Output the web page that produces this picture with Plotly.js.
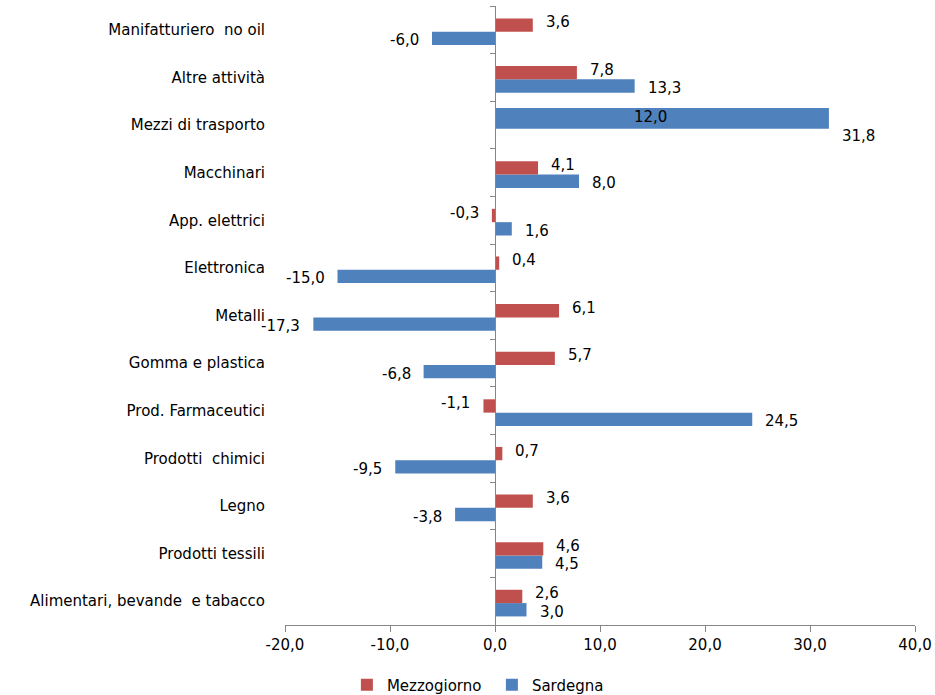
<!DOCTYPE html>
<html>
<head>
<meta charset="utf-8">
<script src="https://cdn.plot.ly/plotly-3.0.1.min.js"></script>
<style>html,body{margin:0;padding:0;background:#fff;}#chart{width:935px;height:695px;}</style>
</head>
<body>
<div id="chart"></div>
<script>
var categories = ["Manifatturiero  no oil", "Altre attività", "Mezzi di trasporto", "Macchinari", "App. elettrici", "Elettronica", "Metalli", "Gomma e plastica", "Prod. Farmaceutici", "Prodotti  chimici", "Legno", "Prodotti tessili", "Alimentari, bevande  e tabacco"];
var mezzogiorno = [3.6, 7.8, 12.0, 4.1, -0.3, 0.4, 6.1, 5.7, -1.1, 0.7, 3.6, 4.6, 2.6];
var sardegna = [-6.0, 13.3, 31.8, 8.0, 1.6, -15.0, -17.3, -6.8, 24.5, -9.5, -3.8, 4.5, 3.0];
var xTicks = [-20, -10, 0, 10, 20, 30, 40];
var overlapCategory = "Mezzi di trasporto"; // in the original the blue bar covers the red one here

var RED = "#C0504D", BLUE = "#4F81BD";
function fmt(v) { return v.toFixed(1).replace(".", ","); }

var W = 0.28, SHIFT = 0.04;
var blueOffset = categories.map(function (c) { return c === overlapCategory ? -0.36 : SHIFT; });
var blueWidth = categories.map(function (c) { return c === overlapCategory ? 0.44 : W; });
var redColor = categories.map(function (c) { return c === overlapCategory ? "rgba(0,0,0,0)" : RED; });

var font = { family: "DejaVu Sans, sans-serif", size: 15, color: "#000" };
var yRange = [categories.length - 0.5, -0.5];

// value labels, placed next to the end of each bar
function labels(values, slotCenter, yshift) {
  return values.map(function (v, i) {
    return {
      x: v, y: i + slotCenter, xref: "x", yref: "y",
      text: fmt(v), showarrow: false, font: font,
      xanchor: v < 0 ? "right" : "left", yanchor: "middle",
      xshift: v < 0 ? -11 : 11, yshift: yshift
    };
  });
}
var annotations = labels(mezzogiorno, SHIFT - W / 2, 3).concat(labels(sardegna, SHIFT + W / 2, -2));

var traces = [
  {
    type: "bar", orientation: "h", name: "Sardegna", y: categories, x: sardegna,
    marker: { color: BLUE }, offset: blueOffset, width: blueWidth,
    hoverinfo: "x+name", legendrank: 2
  },
  {
    type: "bar", orientation: "h", name: "Mezzogiorno", y: categories, x: mezzogiorno,
    marker: { color: redColor }, offset: SHIFT - W, width: W,
    hoverinfo: "x+name", legendrank: 1
  },
  {
    type: "scatter", mode: "none", y: categories, x: categories.map(function () { return 0; }),
    yaxis: "y2", showlegend: false, hoverinfo: "skip"
  }
];

var layout = {
  width: 935, height: 695,
  margin: { l: 285, r: 20, t: 6, b: 70 },
  paper_bgcolor: "#fff", plot_bgcolor: "#fff",
  font: font,
  barmode: "overlay",
  showlegend: true,
  annotations: annotations,
  legend: { orientation: "h", x: 0.371, xref: "container", xanchor: "left", y: 0.0144, yref: "container", yanchor: "middle", font: font, traceorder: "normal", itemwidth: 30, entrywidth: 100, entrywidthmode: "pixels" },
  xaxis: {
    range: [-20, 40], tickvals: xTicks, ticktext: xTicks.map(fmt),
    showgrid: false, zeroline: false, showline: true, linecolor: "#868686", linewidth: 1,
    ticks: "outside", ticklen: 6, tickcolor: "#868686", tickfont: font, fixedrange: true
  },
  yaxis: {
    type: "category", categoryorder: "array", categoryarray: categories, range: yRange, autorange: false,
    showgrid: false, zeroline: false, showline: false,
    ticks: "outside", ticklen: 16, tickcolor: "rgba(0,0,0,0)", tickfont: font, fixedrange: true
  },
  yaxis2: {
    type: "category", categoryorder: "array", categoryarray: categories, range: yRange, autorange: false,
    overlaying: "y", anchor: "free", position: 1 / 3, side: "left",
    showgrid: false, zeroline: false, showline: true, linecolor: "#868686", linewidth: 1,
    ticks: "outside", tickson: "boundaries", ticklen: 5, tickcolor: "#868686",
    showticklabels: false, fixedrange: true
  }
};

Plotly.newPlot("chart", traces, layout, { displayModeBar: false, responsive: false });
</script>
</body>
</html>
